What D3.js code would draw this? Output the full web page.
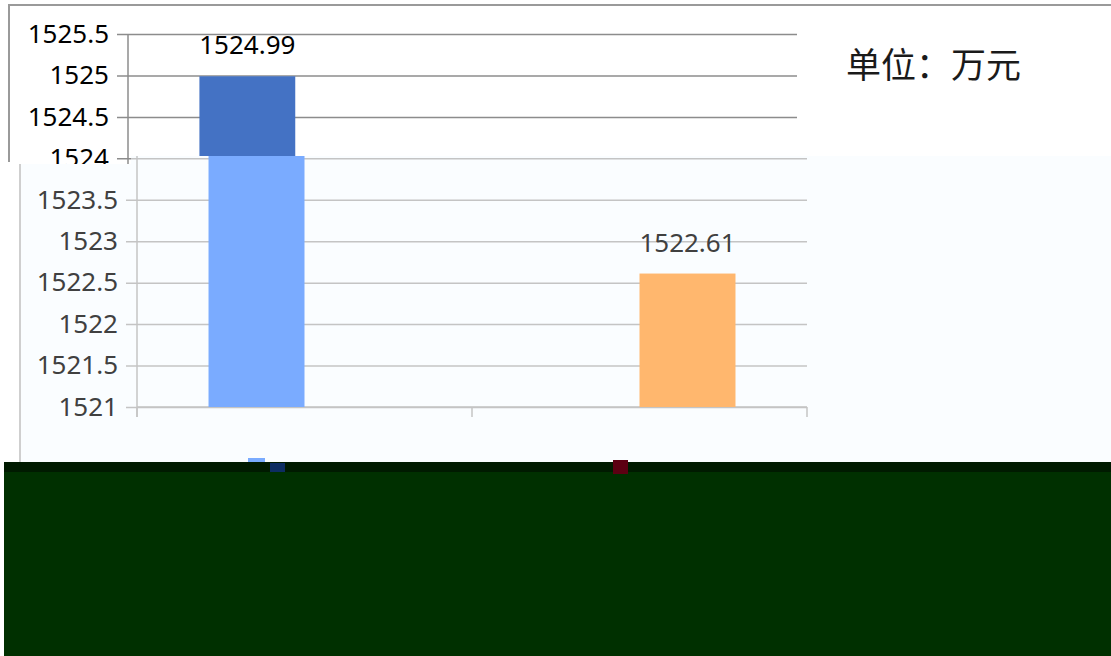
<!DOCTYPE html>
<html>
<head>
<meta charset="utf-8">
<script src="https://cdn.jsdelivr.net/npm/d3@7"></script>
<style>
  body { margin: 0; background: #ffffff; }
  svg { display: block; }
</style>
</head>
<body>
<div id="chart"></div>
<script>
// chart data
var categories = ["类别一", "类别二"];
var seriesNames = ["系列1", "系列2"];
var seriesA = [1524.99, null];
var seriesB = [null, 1522.61];
var yTicks = [1521, 1521.5, 1522, 1522.5, 1523, 1523.5, 1524, 1524.5, 1525, 1525.5];
var unitText = "单位：万元";

var svgWidth = 1111;
var svgHeight = 656;

var svg = d3.select("#chart")
  .append("svg")
  .attr("width", svgWidth)
  .attr("height", svgHeight);

var defs = svg.append("defs");

// rows for the grouped bars
var rows = categories.map(function(c, i) {
  return { cat: c, values: [seriesA[i], seriesB[i]] };
});

var y = d3.scaleLinear()
  .domain([1521, 1525.5])
  .range([407, 34]);

function drawPanel(opts) {
  defs.append("clipPath")
    .attr("id", opts.id)
    .append("path")
    .attr("d", opts.clip);

  var g = svg.append("g").attr("clip-path", "url(#" + opts.id + ")");

  if (opts.bg) {
    g.append("path")
      .attr("d", opts.clip)
      .attr("fill", opts.bg);
  }

  // only the texts that are seen in this layer
  var shown = function(v) { return v >= opts.vmin && v <= opts.vmax; };

  var x0 = d3.scaleBand()
    .domain(categories)
    .range([opts.left, opts.right])
    .paddingInner(0.427)
    .paddingOuter(0.2135);

  var x1 = d3.scaleBand()
    .domain(seriesNames)
    .range([0, x0.bandwidth()]);

  // y axis with gridlines
  var leftAxis = d3.axisLeft(y)
    .tickValues(yTicks)
    .tickSizeInner(-(opts.right - opts.left + 11))
    .tickSizeOuter(0)
    .tickPadding(8)
    .tickFormat(d => shown(d) ? d3.format("~f")(d) : "");

  var ya = g.append("g")
    .attr("transform", `translate(${opts.left - 11}, 0)`)
    .call(leftAxis);
  ya.select(".domain").remove();
  ya.selectAll("text").filter(function() { return this.textContent === ""; }).remove();
  ya.selectAll("line").attr("stroke", opts.grid).attr("stroke-width", 1.5);
  ya.selectAll("text")
    .attr("fill", opts.text)
    .attr("font-family", "'Noto Sans', sans-serif")
    .attr("font-size", "26px");

  // vertical axis line
  g.append("line")
    .attr("x1", opts.left).attr("x2", opts.left)
    .attr("y1", y(1525.5)).attr("y2", 417)
    .attr("stroke", opts.grid).attr("stroke-width", 1.5);

  // bottom axis with band boundaries
  var bounds = [opts.left].concat(categories.map(function(c) { return x0(c) + x0.bandwidth() + x0.step() * 0.2135; }));
  g.append("line")
    .attr("x1", opts.left).attr("x2", opts.right)
    .attr("y1", y(1521)).attr("y2", y(1521))
    .attr("stroke", opts.grid).attr("stroke-width", 1.5);
  g.selectAll(".btick")
    .data(bounds)
    .enter()
    .append("line")
    .attr("x1", d => d).attr("x2", d => d)
    .attr("y1", y(1521)).attr("y2", 417)
    .attr("stroke", opts.grid).attr("stroke-width", 1.5);

  // bars
  var groups = g.selectAll(".grp")
    .data(rows)
    .enter()
    .append("g")
    .attr("transform", d => `translate(${x0(d.cat)}, 0)`);

  var items = groups.selectAll("g")
    .data(d => d.values.map(function(v, i) { return { name: seriesNames[i], value: v, i: i }; })
      .filter(e => e.value !== null))
    .enter()
    .append("g");

  items.append("rect")
    .attr("x", d => x1(d.name))
    .attr("y", d => y(d.value))
    .attr("width", x1.bandwidth())
    .attr("height", d => y(1521) - y(d.value))
    .attr("fill", d => opts.colors[d.i]);

  items.filter(d => shown(d.value + 0.3))
    .append("text")
    .attr("x", d => x1(d.name) + x1.bandwidth() / 2)
    .attr("y", d => y(d.value) - 22)
    .attr("text-anchor", "middle")
    .attr("fill", opts.text)
    .attr("font-family", "'Noto Sans', sans-serif")
    .attr("font-size", "26px")
    .text(d => d.value);
}

// upper (older) layer
svg.append("line")
  .attr("x1", 8).attr("x2", svgWidth).attr("y1", 5).attr("y2", 5)
  .attr("stroke", "#9a9a9a").attr("stroke-width", 2);
svg.append("line")
  .attr("x1", 9).attr("x2", 9).attr("y1", 5).attr("y2", 162)
  .attr("stroke", "#9a9a9a").attr("stroke-width", 2);

drawPanel({
  id: "clipTop",
  clip: "M0,0H1111V156H131V164H0Z",
  left: 128,
  right: 797,
  vmin: 1524,
  vmax: 1526,
  grid: "#8c8c8c",
  text: "#000000",
  colors: ["#4472c4", "#ed7d31"]
});

svg.append("text")
  .attr("x", 846)
  .attr("y", 78)
  .attr("fill", "#1a1a1a")
  .attr("font-family", "'Noto Sans CJK SC', sans-serif")
  .attr("font-size", "35px")
  .text(unitText);

// lower (newer) layer
drawPanel({
  id: "clipLow",
  clip: "M131,156H1111V462H20V164H131Z",
  left: 137,
  right: 807,
  vmin: 1520,
  vmax: 1523.9,
  grid: "#c4c4c4",
  text: "#404040",
  bg: "#fafdff",
  colors: ["#7aabff", "#ffb76e"]
});

svg.append("line")
  .attr("x1", 20).attr("x2", 20).attr("y1", 164).attr("y2", 462)
  .attr("stroke", "#cfcfcf").attr("stroke-width", 2);

// dark band at the bottom
svg.append("rect")
  .attr("x", 4).attr("y", 462)
  .attr("width", svgWidth - 4).attr("height", svgHeight - 462)
  .attr("fill", "#003000");
svg.append("rect")
  .attr("x", 4).attr("y", 462)
  .attr("width", svgWidth - 4).attr("height", 10)
  .attr("fill", "#001a00");

// legend swatches
var legendX = [248, 613];
var legendColors = ["#0d2d62", "#5c0012"];
svg.append("rect")
  .attr("x", 248).attr("y", 458).attr("width", 17).attr("height", 4)
  .attr("fill", "#7aabff");
svg.selectAll(".legend")
  .data(seriesNames)
  .enter()
  .append("rect")
  .attr("x", (d, i) => legendX[i] + (i === 0 ? 22 : 0))
  .attr("y", (d, i) => i === 0 ? 463 : 460)
  .attr("width", 15)
  .attr("height", (d, i) => i === 0 ? 9 : 14)
  .attr("fill", (d, i) => legendColors[i]);
</script>
</body>
</html>
